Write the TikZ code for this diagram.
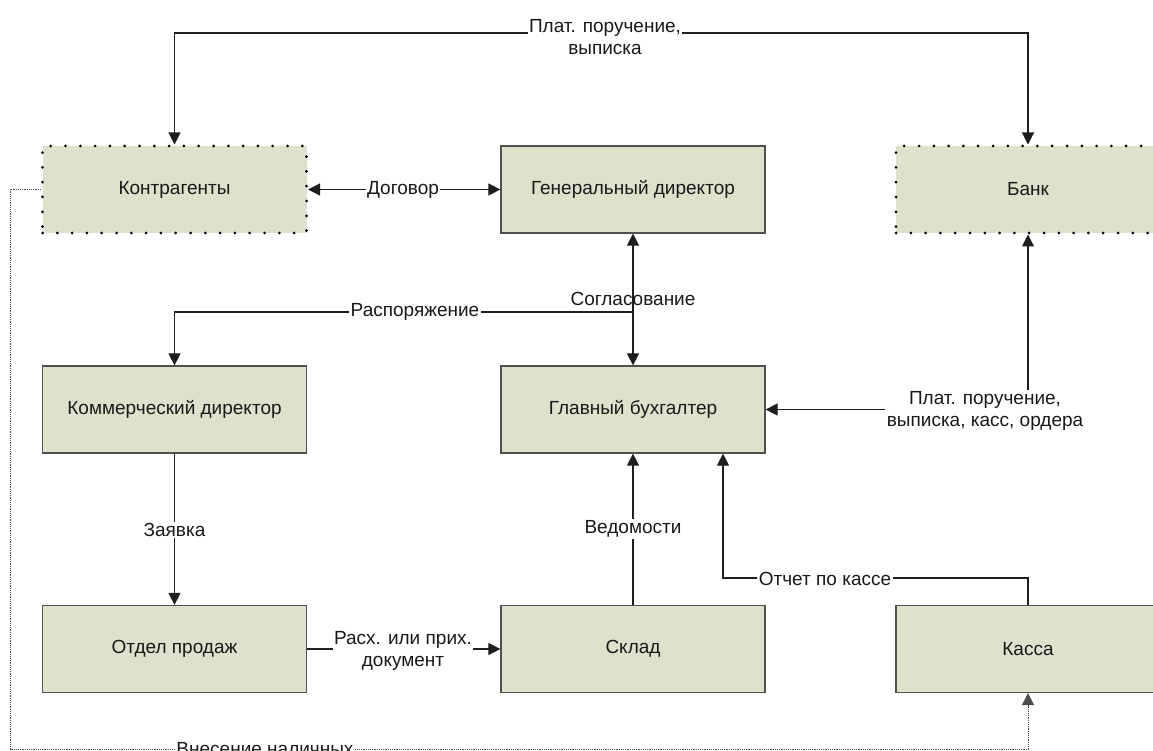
\documentclass[tikz,border=0pt]{standalone}
\usepackage{fontspec}
\setmainfont{Liberation Sans}
\usetikzlibrary{arrows.meta}
\definecolor{boxfill}{RGB}{222,225,204}
\definecolor{boxline}{RGB}{80,80,80}
\definecolor{wire}{RGB}{30,30,30}
\definecolor{txt}{RGB}{25,25,25}
\begin{document}
\begin{tikzpicture}[x=1pt,y=-1pt,
  every node/.style={font=\fontsize{19}{22}\selectfont, text=txt},
  unit/.style={fill=boxfill, minimum width=264pt, minimum height=87pt, inner sep=0pt},
  solidbox/.style={unit, draw=boxline, line width=1.2pt},
  dotbox/.style={unit, draw=black, line width=3pt, dash pattern=on 0pt off 14.8pt, line cap=round},
  lbl/.style={fill=white, inner sep=1.5pt, align=center},
  bare/.style={inner sep=1pt, align=center},
  conn/.style={draw=wire, line width=1.1pt},
  tip/.style={-{Triangle[length=12pt,width=12pt]}},
  twotip/.style={{Triangle[length=12pt,width=12pt]}-{Triangle[length=12pt,width=12pt]}},
  cashline/.style={draw=black!70, line width=0.9pt, dash pattern=on 1.2pt off 1pt}
]
\path[use as bounding box, clip] (0,0) rectangle (1153,751);

% organisational units
\node[dotbox]   (kontr) at (174.5,189.5) {Контрагенты};
\node[solidbox] (gen)   at (633,189.5)   {Генеральный директор};
\node[dotbox]   (bank)  at (1028,189.5)  {Банк};
\node[solidbox] (kom)   at (174.5,409.5) {Коммерческий директор};
\node[solidbox] (buh)   at (633,409.5)   {Главный бухгалтер};
\node[solidbox] (otdel) at (174.5,649)   {Отдел продаж};
\node[solidbox] (sklad) at (633,649)     {Склад};
\node[solidbox] (kassa) at (1028,649)    {Касса};

% routing levels
\coordinate (ytop)  at (0,33);
\coordinate (yrasp) at (0,312);
\coordinate (yotch) at (0,578);
\coordinate (ycash) at (0,749);
\coordinate (xcash) at (10,0);
\coordinate (xotch) at (723,0);

% payment documents between counterparties and bank
\draw[conn,twotip] (kontr.north) -- (kontr.north |- ytop) -- (bank.north |- ytop) -- (bank.north);
\node[lbl] (l1) at (605,37) {Плат. поручение,\\выписка};

% contract
\draw[conn,twotip] (kontr.east) -- (gen.west);
\node[lbl] (l2) at (403,189.5) {Договор};

% approval
\draw[conn,twotip] (gen.south) -- (buh.north);
\node[bare] (l3) at (633,299) {Согласование};

% order to the commercial director
\draw[conn,tip] (gen.south |- yrasp) -- (kom.north |- yrasp) -- (kom.north);
\node[lbl] (l4) at (415,312) {Распоряжение};

% request
\draw[conn,tip] (kom.south) -- (otdel.north);
\node[lbl] (l5) at (174.5,530) {Заявка};

% shipping documents
\draw[conn,tip] (otdel.east) -- (sklad.west);
\node[lbl] (l6) at (403,651) {Расх. или прих.\\документ};

% statements
\draw[conn,tip] (sklad.north) -- (buh.south);
\node[lbl] (l7) at (633,529) {Ведомости};

% cash report
\draw[conn,tip] (kassa.north) -- (kassa.north |- yotch) -- (xotch |- yotch) -- (xotch |- buh.south);
\node[lbl] (l8) at (825,579) {Отчет по кассе};

% bank documents to the chief accountant
\draw[conn,twotip] (bank.south) -- (bank.south |- buh.east) -- (buh.east);
\node[lbl] (l9) at (985,411) {Плат. поручение,\\выписка, касс, ордера};

% cash deposit
\draw[cashline,tip] (kontr.west) -- (xcash |- kontr.west) -- (xcash |- ycash) -- (kassa.south |- ycash) -- (kassa.south);
\node[lbl, inner sep=0.5pt] (l10) at (265,749) {Внесение наличных};
\end{tikzpicture}
\end{document}
